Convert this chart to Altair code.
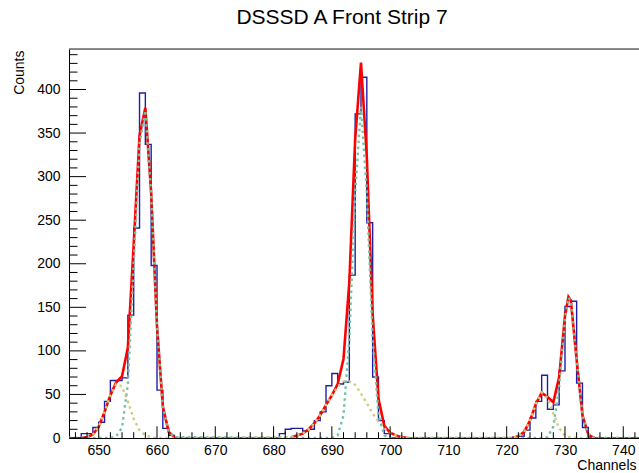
import altair as alt
import pandas as pd

TITLE = "DSSSD A Front Strip 7"
X_TITLE = "Channels"
Y_TITLE = "Counts"

X_DOMAIN = [644.9, 742.7]
Y_DOMAIN = [0, 446.5]

# ---- histogram (bin low edges, width 1 channel) ----
hist_first, hist_last = 645, 742
counts_p1_start = 645
counts_p1 = [0, 0, 5, 5, 12, 18, 42, 66, 66, 69, 141, 241, 396, 337, 198, 55, 11, 3, 0]
counts_p2_start = 681
counts_p2 = [5, 10, 11, 11, 8, 10, 20, 30, 60, 74, 62, 64, 187, 372, 414, 247, 70, 20, 5, 0]
counts_p3_start = 720
counts_p3 = [0, 1, 2, 9, 23, 42, 72, 33, 38, 77, 151, 157, 63, 12, 1, 0]

# ---- fit components ----
fit1_x = list(range(647, 664))
fit1_main = [0, 0, 0, 0, 0, 0, 2, 12, 62, 200, 338, 376, 280, 128, 36, 7, 1]
fit1_sat = [0, 1, 4, 13, 30, 49, 62, 59, 42, 22, 9, 3, 1, 0, 0, 0, 0]

fit2_x = list(range(683, 704))
fit2_main = [0, 0, 0, 0, 0, 0, 0, 0, 3, 26, 114, 282, 380, 282, 114, 26, 3, 0, 0, 0, 0]
fit2_sat = [1, 3, 5, 10, 17, 26, 38, 49, 59, 65, 65, 61, 51, 40, 28, 19, 11, 6, 3, 1, 0]

fit3_x = [720, 721, 722, 723, 724, 725, 726, 727, 728, 729, 730, 730.6, 731, 732, 733, 734, 735, 736]
fit3_main = [0, 0, 0, 0, 0, 0, 0, 1, 13, 59, 137, 161, 157, 90, 26, 4, 0, 0]
fit3_sat = [0, 0, 2, 7, 20, 39, 52, 46, 28, 11, 3, 1, 1, 0, 0, 0, 0, 0]

x_major = list(range(650, 741, 10))
x_minor = [v for v in range(646, 743, 2) if v % 10 != 0]
y_major = list(range(0, 401, 50))
y_minor = [v for v in range(10, 441, 10) if v % 50 != 0]

# ---- build tables ----
counts = {c: 0 for c in range(hist_first, hist_last + 1)}
for start, arr in ((counts_p1_start, counts_p1), (counts_p2_start, counts_p2), (counts_p3_start, counts_p3)):
    for i, v in enumerate(arr):
        counts[start + i] = v
hist_rows = [{"x": c, "y": counts[c]} for c in range(hist_first, hist_last + 1)]
hist_rows.append({"x": hist_last + 1, "y": counts[hist_last]})
hist_df = pd.DataFrame(hist_rows)

comp_rows = []
red_rows = []
for name, xs, main, sat in (("p1", fit1_x, fit1_main, fit1_sat),
                            ("p2", fit2_x, fit2_main, fit2_sat),
                            ("p3", fit3_x, fit3_main, fit3_sat)):
    tot = [m + s for m, s in zip(main, sat)]
    nz = [i for i, t in enumerate(tot) if t > 0]
    lo, hi = max(nz[0] - 1, 0), min(nz[-1] + 1, len(xs) - 1)
    for i in range(lo, hi + 1):
        red_rows.append({"x": xs[i], "y": tot[i], "g": name})
    for x, m, s in zip(xs, main, sat):
        comp_rows.append({"x": x, "main": m, "sat": s})
comp_df = pd.DataFrame([{"x": X_DOMAIN[0], "main": 0, "sat": 0}] + comp_rows +
                       [{"x": X_DOMAIN[1], "main": 0, "sat": 0}])
red_df = pd.DataFrame(red_rows)

FONT = "Liberation Sans"
W, H = 570, 389

xs_ = alt.Scale(domain=X_DOMAIN, nice=False, zero=False)
ys_ = alt.Scale(domain=Y_DOMAIN, nice=False, zero=False)

x_axis = alt.Axis(values=x_major, title=X_TITLE, ticks=False, grid=False, domainColor="black",
                  labelFont=FONT, labelFontSize=14, labelColor="black", labelPadding=5,
                  titleFont=FONT, titleFontSize=14, titleFontWeight="normal", titleColor="black",
                  titleX=567, titleY=31, titleAlign="right", titleBaseline="alphabetic",
                  labelFlush=False, labelOverlap=False)
y_axis = alt.Axis(values=y_major, title=Y_TITLE, ticks=False, grid=False, domainColor="black",
                  labelFont=FONT, labelFontSize=14, labelColor="black", labelPadding=9,
                  titleFont=FONT, titleFontSize=14, titleFontWeight="normal", titleColor="black",
                  titleAngle=270, titleX=-46, titleY=1, titleAlign="right", titleBaseline="alphabetic",
                  labelFlush=False, labelOverlap=False)

X = alt.X("x:Q", scale=xs_, axis=x_axis)
Y = alt.Y("y:Q", scale=ys_, axis=y_axis)

hist = alt.Chart(hist_df).mark_line(interpolate="step-after", color="#1f1fa6",
                                    strokeWidth=1.4, clip=True).encode(x=X, y=Y)

red = alt.Chart(red_df).mark_line(color="#ff0000", strokeWidth=2.6, clip=True).encode(
    x=X, y=Y, detail="g:N")

sat = alt.Chart(comp_df).transform_calculate(y="datum.sat").mark_line(
    color="#d0cb7a", strokeWidth=2.4, strokeDash=[2.5, 3.5], clip=True).encode(x=X, y=Y)
main = alt.Chart(comp_df).transform_calculate(y="datum.main").mark_line(
    color="#72c1a1", strokeWidth=2.4, strokeDash=[2.5, 3.5], clip=True).encode(x=X, y=Y)

xmaj = alt.Chart(pd.DataFrame({"x": x_major})).mark_rule(color="black", strokeWidth=1).encode(
    x=X, y=alt.value(H), y2=alt.value(H - 11.7))
xmin = alt.Chart(pd.DataFrame({"x": x_minor})).mark_rule(color="black", strokeWidth=1).encode(
    x=X, y=alt.value(H), y2=alt.value(H - 5.8))
ymaj = alt.Chart(pd.DataFrame({"y": y_major})).mark_rule(color="black", strokeWidth=1).encode(
    y=Y, x=alt.value(0), x2=alt.value(17))
ymin = alt.Chart(pd.DataFrame({"y": y_minor})).mark_rule(color="black", strokeWidth=1).encode(
    y=Y, x=alt.value(0), x2=alt.value(8.5))
top = alt.Chart(pd.DataFrame({"y": [Y_DOMAIN[1]]})).mark_rule(color="#222222", strokeWidth=1.2).encode(
    y=Y, x=alt.value(0), x2=alt.value(W))

chart = alt.layer(hist, red, sat, main, xmaj, xmin, ymaj, ymin, top).properties(
    width=W, height=H,
    title=alt.TitleParams(text=TITLE, font=FONT, fontSize=21, fontWeight="normal", color="black",
                          anchor="middle", frame="group", dx=-12, offset=3, baseline="alphabetic"),
    autosize=alt.AutoSizeParams(type="none"),
    padding={"left": 69, "top": 49, "right": 0, "bottom": 35},
).configure_view(stroke=None).configure(background="white")

chart.save("out.html", embed_options={"renderer": "svg", "actions": False})
